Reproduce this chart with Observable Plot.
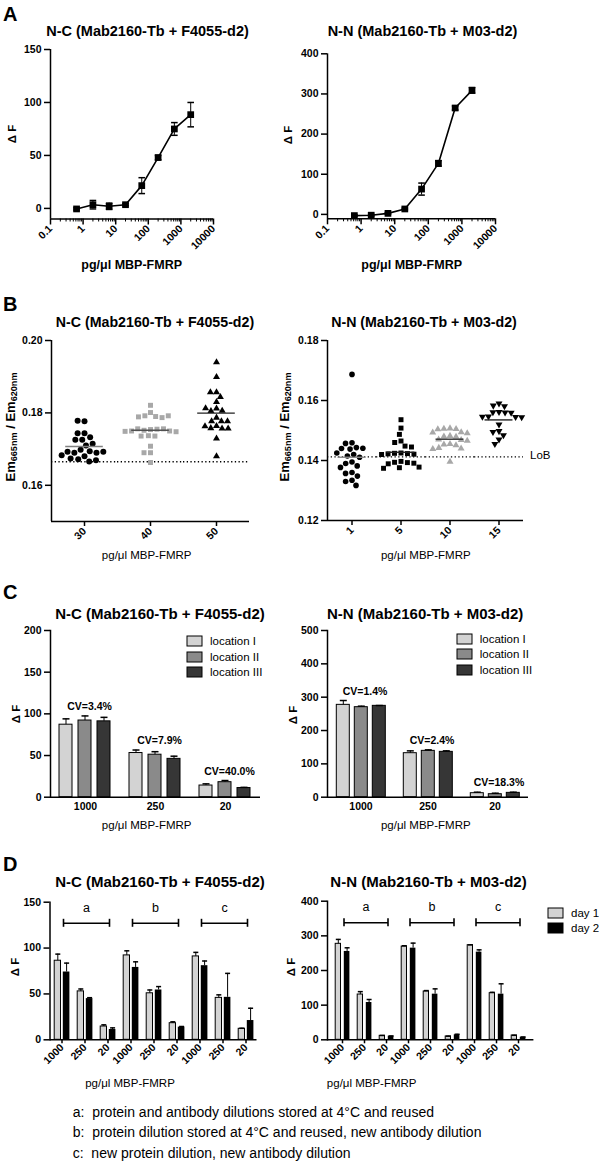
<!DOCTYPE html>
<html><head><meta charset="utf-8">
<script src="https://cdn.jsdelivr.net/npm/d3@7"></script>
<script src="https://cdn.jsdelivr.net/npm/@observablehq/plot@0.6"></script>
<style>
body{margin:0;background:#fff;}
#fig{position:relative;width:600px;height:1163px;overflow:hidden;background:#fff;color:#000;font-family:"Liberation Sans",Arial,Helvetica,sans-serif;}
.pl{position:absolute;}
.t{position:absolute;white-space:pre;}
.t sub{font-size:0.7em;vertical-align:-0.25em;line-height:0;}
.lgwrap svg{overflow:visible;margin-right:8px !important;}
.lgwrap svg rect{stroke:#000;stroke-width:1px;}
.lgwrap div{margin:0 !important;min-height:0 !important;}
.lgwrap .lg-swatch{height:15.5px !important;padding-bottom:0 !important;}
</style></head><body><div id="fig"></div>
<script>
// ---------- Panel A data ----------
const concA = [0.63, 2, 6.3, 20, 63, 200, 630, 2000];
const aNC = [-0.5, 3.5, 2, 3.5, 21.5, 48, 75, 88.5];
const aNCerr = [1, 4, 3, 1, 7.5, 2, 6, 11.5];
const aNN = [-3, -2, 2.5, 13.5, 63, 127, 265, 309];
const aNNerr = [2, 2, 2, 2, 15, 7, 5, 7];
const logTicks = [0.1, 1, 10, 100, 1000, 10000];

// ---------- Panel B data ----------
const bNCcats = ["30", "40", "50"];
const bNC30 = [0.1777, 0.1778, 0.1744, 0.1744, 0.1726, 0.1733, 0.1726, 0.1710, 0.1715, 0.1698, 0.1694, 0.1690, 0.1690, 0.1693, 0.1693, 0.1680, 0.1672, 0.1666, 0.1669, 0.1674, 0.1683];
const bNC40 = [0.1821, 0.1801, 0.1792, 0.1790, 0.1787, 0.1789, 0.1792, 0.1754, 0.1752, 0.1755, 0.1756, 0.1756, 0.1750, 0.1750, 0.1749, 0.1748, 0.1737, 0.1736, 0.1736, 0.1708, 0.1690, 0.1690, 0.1663];
const bNC50 = [0.1940, 0.1899, 0.1857, 0.1857, 0.1844, 0.1830, 0.1812, 0.1805, 0.1806, 0.1813, 0.1787, 0.1777, 0.1777, 0.1777, 0.1764, 0.1758, 0.1757, 0.1757, 0.1763, 0.1729, 0.1680];
const bNClob = 0.1665;
const bNNcats = ["1", "5", "10", "15"];
const bNN1 = [0.1687, 0.1459, 0.1457, 0.1443, 0.1441, 0.1440, 0.1438, 0.1425, 0.1420, 0.1415, 0.1411, 0.1395, 0.1390, 0.1382, 0.1377, 0.1360, 0.1357, 0.1348, 0.1334, 0.1330, 0.1317];
const bNN5 = [0.1536, 0.1508, 0.1487, 0.1465, 0.1460, 0.1448, 0.1445, 0.1425, 0.1424, 0.1423, 0.1422, 0.1421, 0.1420, 0.1397, 0.1394, 0.1393, 0.1391, 0.1389, 0.1378, 0.1376, 0.1374];
const bNN10 = [0.1507, 0.1506, 0.1505, 0.1504, 0.1494, 0.1493, 0.1491, 0.1482, 0.1480, 0.1479, 0.1470, 0.1468, 0.1466, 0.1455, 0.1453, 0.1451, 0.1442, 0.1440, 0.1438, 0.1396];
const bNN15 = [0.1590, 0.1583, 0.1581, 0.1562, 0.1561, 0.1560, 0.1559, 0.1547, 0.1546, 0.1545, 0.1544, 0.1520, 0.1498, 0.1495, 0.1484, 0.1470, 0.1455];
const bNNlob = 0.1412;

// ---------- Panel C data ----------
const cConc = ["1000", "250", "20"];
const cLoc = ["location I", "location II", "location III"];
const cNC = [[87, 92, 91], [53, 51, 46], [14, 18, 11]];
const cNCerr = [[7, 5.5, 4.8], [3.6, 3.6, 3.2], [2, 2, 0.8]];
const cNCcv = ["CV=3.4%", "CV=7.9%", "CV=40.0%"];
const cNN = [[277, 270, 274], [132, 139, 136], [12, 9, 13]];
const cNNerr = [[13, 3, 1], [7, 3, 3], [3, 3, 2]];
const cNNcv = ["CV=1.4%", "CV=2.4%", "CV=18.3%"];

// ---------- Panel D data ----------
const dSets = ["a", "b", "c"];
const dConc = ["1000", "250", "20"];
const dDays = ["day 1", "day 2"];
const dNCday1 = [86.2, 52.8, 14.5, 92, 50.7, 18.1, 90.9, 45.7, 12];
const dNCday1err = [7.2, 2.6, 1.8, 5, 3.6, 1.5, 4.4, 3.3, 0.6];
const dNCday2 = [73.9, 44.9, 11.2, 78.9, 54.3, 13.8, 80.8, 46.3, 21];
const dNCday2err = [9.7, 1, 1.8, 6.1, 3.7, 0.7, 5.1, 26.1, 13.4];
const dNNday1 = [277, 130.7, 11.5, 269, 139.4, 9.6, 273, 134.5, 12.4];
const dNNday1err = [12.7, 8.3, 1, 2.5, 2.6, 0.9, 1, 2.5, 0.6];
const dNNday2 = [255, 107.6, 10.5, 264.5, 131.7, 14.4, 253, 131.7, 7.5];
const dNNday2err = [10.5, 8.7, 0.6, 14.5, 15.3, 1.6, 6.6, 29.9, 0.6];
const dBracketNC = 127;
const dBracketNN = 338;

const captionLines = [
  "a:  protein and antibody dilutions stored at 4°C and reused",
  "b:  protein dilution stored at 4°C and reused, new antibody dilution",
  "c:  new protein dilution, new antibody dilution"
];

// ---------- helpers ----------
const FONT = '"Liberation Sans", Arial, Helvetica, sans-serif';
const baseStyle = {fontFamily: FONT, fontSize: "10.5px", fontWeight: "bold", overflow: "visible", background: "none", color: "#000"};
const fig = document.getElementById("fig");
const sqrt3 = Math.sqrt(3);
const capSym = {draw(ctx, size) { const w = Math.sqrt(size / Math.PI); ctx.moveTo(-w, 0); ctx.lineTo(w, 0); }};
const triDown = {draw(ctx, size) { const y = -Math.sqrt(size / (sqrt3 * 3)); ctx.moveTo(0, -y * 2); ctx.lineTo(-sqrt3 * y, y); ctx.lineTo(sqrt3 * y, y); ctx.closePath(); }};

function place(el, left, top, cls) {
  const w = document.createElement("div");
  w.className = "pl" + (cls ? " " + cls : "");
  w.style.left = left + "px"; w.style.top = top + "px";
  w.appendChild(el); fig.appendChild(w);
}
function addText(html, x, y, o = {}) {
  const size = o.size || 12;
  const d = document.createElement("div");
  d.className = "t";
  d.innerHTML = html;
  d.style.fontSize = size + "px";
  d.style.lineHeight = size + "px";
  d.style.fontWeight = o.bold ? "bold" : "normal";
  d.style.left = x + "px";
  if (o.rotate) {
    d.style.top = y + "px";
    d.style.transform = "translate(-50%,-50%) rotate(-90deg)";
  } else {
    d.style.top = (y - 0.8465 * size) + "px";
    if (o.anchor !== "start") d.style.transform = "translateX(-50%)";
  }
  fig.appendChild(d);
}

// ---------- Panel A ----------
const minorTicks = [-1, 0, 1, 2, 3].flatMap(k => d3.range(2, 10).map(m => m * 10 ** k));
function curvePlot(vals, errs, yDomain, yTicks, geom) {
  const rows = concA.map((c, i) => ({c, v: vals[i], lo: vals[i] - errs[i], hi: vals[i] + errs[i]}));
  return Plot.plot({
    ...geom, style: baseStyle,
    x: {type: "log", domain: [0.1, 10000], axis: null},
    y: {domain: yDomain, axis: null},
    marks: [
      Plot.axisY({ticks: yTicks, tickSize: 6, tickPadding: 3, strokeWidth: 1.5, label: null}),
      Plot.axisX({ticks: minorTicks, tickSize: 3, tickFormat: () => "", strokeWidth: 1, label: null}),
      Plot.axisX({ticks: logTicks, tickSize: 6, tickPadding: 2, tickRotate: -45, tickFormat: d => String(d), strokeWidth: 1.5, label: null}),
      Plot.ruleX([0.1], {strokeWidth: 1.5}),
      Plot.ruleY([yDomain[0]], {strokeWidth: 1.5}),
      Plot.ruleX(rows, {x: "c", y1: "lo", y2: "hi", strokeWidth: 1}),
      Plot.dot(rows, {x: "c", y: "hi", symbol: capSym, r: 3.3, stroke: "black", fill: "none"}),
      Plot.dot(rows, {x: "c", y: "lo", symbol: capSym, r: 3.3, stroke: "black", fill: "none"}),
      Plot.line(rows, {x: "c", y: "v", strokeWidth: 1.6}),
      Plot.dot(rows, {x: "c", y: "v", symbol: "square", r: 3.8, fill: "black", stroke: "none"})
    ]
  });
}
place(curvePlot(aNC, aNCerr, [-10, 150], [0, 50, 100, 150],
  {width: 300, height: 260, marginLeft: 50, marginRight: 87, marginTop: 49, marginBottom: 41.5}), 0, 0);
place(curvePlot(aNN, aNNerr, [-11, 400], [0, 100, 200, 300, 400],
  {width: 300, height: 260, marginLeft: 27, marginRight: 105, marginTop: 53.3, marginBottom: 41.7}), 300, 0);

// ---------- Panel B ----------
function swarmPlot(cats, groups, syms, fills, rs, lineCols, yDomain, yTicks, lob, geom) {
  const pts = cats.flatMap((c, i) => groups[i].map(v => ({cat: c, v})));
  const means = cats.map((c, i) => ({cat: c, m: d3.mean(groups[i]), col: lineCols[i]}));
  return Plot.plot({
    ...geom, style: baseStyle,
    fx: {domain: cats, padding: 0, axis: null, label: null},
    x: {domain: [-1, 1], axis: null},
    y: {domain: yDomain, axis: null},
    marks: [
      Plot.ruleY([lob], {strokeDasharray: "1.3,2.4", strokeWidth: 1.3}),
      Plot.ruleY([yDomain[0]], {strokeWidth: 1.5}),
      Plot.ruleX([{cat: cats[0]}], {fx: "cat", x: -1, strokeWidth: 1.5}),
      Plot.axisY({ticks: yTicks, tickFormat: d3.format(".2f"), tickSize: 6, tickPadding: 3, strokeWidth: 1.5, label: null}),
      Plot.axisFx({anchor: "bottom", tickSize: 5, tickPadding: 3, tickRotate: -45, strokeWidth: 1.5, label: null}),
      ...cats.map((c, i) => Plot.dot(pts.filter(p => p.cat === c),
        Plot.dodgeX({anchor: "middle", padding: 0.9}, {fx: "cat", y: "v", r: rs[i], symbol: syms[i], fill: fills[i], stroke: "none"}))),
      ...means.map(m => Plot.ruleY([m], {fx: "cat", y: "m", x1: -0.57, x2: 0.57, stroke: m.col, strokeWidth: 1.4}))
    ]
  });
}
place(swarmPlot(bNCcats, [bNC30, bNC40, bNC50], ["circle", "square", "triangle"], ["black", "#a8a8a8", "black"], [3, 2.8, 2.6],
  ["#808080", "#505050", "#202020"], [0.15, 0.20], [0.16, 0.18, 0.20], bNClob,
  {width: 300, height: 260, marginLeft: 50.7, marginRight: 50.7, marginTop: 50, marginBottom: 29}), 0, 290);
place(swarmPlot(bNNcats, [bNN1, bNN5, bNN10, bNN15], ["circle", "square", "triangle", triDown], ["black", "black", "#a8a8a8", "black"], [2.8, 2.8, 2.6, 2.6],
  ["#8a8a8a", "#202020", "#303030", "#202020"], [0.12, 0.18], [0.12, 0.14, 0.16, 0.18], bNNlob,
  {width: 300, height: 260, marginLeft: 26.7, marginRight: 76, marginTop: 50, marginBottom: 30}), 300, 290);

// ---------- Panel C ----------
const cColors = ["#d3d3d3", "#8a8a8a", "#363636"];
function groupedBars(vals, errs, cvs, yDomain, yTicks, geom) {
  const rows = cConc.flatMap((c, i) => cLoc.map((l, j) => ({conc: c, loc: l, v: vals[i][j], top: vals[i][j] + errs[i][j]})));
  const cvRows = cConc.map((c, i) => ({conc: c, text: cvs[i], y: d3.max(rows.filter(r => r.conc === c), r => r.top)}));
  return Plot.plot({
    ...geom, style: baseStyle,
    fx: {domain: cConc, padding: 0, axis: null, label: null},
    x: {domain: cLoc, paddingInner: 0.3, paddingOuter: 0.48, axis: null},
    y: {domain: yDomain, axis: null},
    color: {domain: cLoc, range: cColors},
    marks: [
      Plot.barY(rows, {fx: "conc", x: "loc", y: "v", fill: "loc", stroke: "black", strokeWidth: 1}),
      Plot.ruleX(rows, {fx: "conc", x: "loc", y1: "v", y2: "top", strokeWidth: 1}),
      Plot.dot(rows, {fx: "conc", x: "loc", y: "top", symbol: capSym, r: 3.5, stroke: "black", fill: "none"}),
      Plot.text(cvRows, {fx: "conc", y: "y", text: "text", dy: -6, dx: 4, lineAnchor: "bottom", fontWeight: "bold", fontSize: 10.5}),
      Plot.ruleY([yDomain[0]], {strokeWidth: 1.5}),
      Plot.frame({anchor: "left", facetAnchor: "left", strokeWidth: 1.5}),
      Plot.axisY({ticks: yTicks, tickSize: 6, tickPadding: 3, strokeWidth: 1.5, label: null}),
      Plot.axisFx({anchor: "bottom", tickSize: 0, tickPadding: 5, label: null})
    ]
  });
}
place(groupedBars(cNC, cNCerr, cNCcv, [0, 200], [0, 50, 100, 150, 200],
  {width: 300, height: 230, marginLeft: 50, marginRight: 40, marginTop: 30, marginBottom: 33.3}), 0, 600);
place(groupedBars(cNN, cNNerr, cNNcv, [0, 500], [0, 100, 200, 300, 400, 500],
  {width: 300, height: 230, marginLeft: 26.7, marginRight: 72.3, marginTop: 30, marginBottom: 33.3}), 300, 600);

function makeLegend(domain, range) {
  return Plot.legend({color: {type: "ordinal", domain, range}, legend: "swatches", columns: 1, swatchWidth: 15, swatchHeight: 10, className: "lg",
    style: {fontFamily: FONT, fontSize: "11.5px", fontWeight: "normal", color: "#000", margin: "0"}});
}
place(makeLegend(cLoc, cColors), 187, 633.5, "lgwrap");
place(makeLegend(cLoc, cColors), 456.7, 631, "lgwrap");

// ---------- Panel D ----------
const dKeys = dSets.flatMap(s => dConc.map(c => s + "-" + c));
function pairedBars(d1, e1, d2, e2, level, yDomain, yTicks, geom) {
  const rows = dKeys.map((k, i) => ({key: k, d1: d1[i], t1: d1[i] + e1[i], d2: d2[i], t2: d2[i] + e2[i]}));
  const br = dSets.map(s => ({label: s, from: s + "-" + dConc[0], mid: s + "-" + dConc[1], to: s + "-" + dConc[2]}));
  return Plot.plot({
    ...geom, style: baseStyle,
    x: {domain: dKeys, padding: 0, axis: null},
    y: {domain: yDomain, axis: null},
    marks: [
      Plot.barY(rows, {x: "key", y: "d1", fill: "#d3d3d3", stroke: "black", strokeWidth: 1, insetLeft: 4.2, insetRight: 12.5}),
      Plot.barY(rows, {x: "key", y: "d2", fill: "black", insetLeft: 12.8, insetRight: 3.6}),
      Plot.ruleX(rows, {x: "key", y1: "d1", y2: "t1", dx: -4.2, strokeWidth: 1}),
      Plot.dot(rows, {x: "key", y: "t1", dx: -4.2, symbol: capSym, r: 2.5, stroke: "black", fill: "none"}),
      Plot.ruleX(rows, {x: "key", y1: "d2", y2: "t2", dx: 4.6, strokeWidth: 1}),
      Plot.dot(rows, {x: "key", y: "t2", dx: 4.6, symbol: capSym, r: 2.5, stroke: "black", fill: "none"}),
      Plot.link(br, {x1: "from", x2: "to", y1: level, y2: level, dx: 1.5, strokeWidth: 1.6}),
      Plot.ruleX(br, {x: "from", y1: level, y2: level, dx: 1.5, insetTop: -4, insetBottom: -4, strokeWidth: 1.6}),
      Plot.ruleX(br, {x: "to", y1: level, y2: level, dx: 1.5, insetTop: -4, insetBottom: -4, strokeWidth: 1.6}),
      Plot.text(br, {x: "mid", y: level, text: "label", dx: 1.5, dy: -15.5, fontWeight: "normal", fontSize: 12.5}),
      Plot.ruleY([yDomain[0]], {strokeWidth: 1.5}),
      Plot.frame({anchor: "left", strokeWidth: 1.5}),
      Plot.axisY({ticks: yTicks, tickSize: 6, tickPadding: 3, strokeWidth: 1.5, label: null}),
      Plot.axisX({tickSize: 4, tickPadding: 2, tickRotate: -45, tickFormat: d => d.split("-")[1], strokeWidth: 1.5, label: null})
    ]
  });
}
place(pairedBars(dNCday1, dNCday1err, dNCday2, dNCday2err, dBracketNC, [0, 150], [0, 50, 100, 150],
  {width: 300, height: 200, marginLeft: 49.5, marginRight: 43.5, marginTop: 21.7, marginBottom: 40.7}), 0, 880);
place(pairedBars(dNNday1, dNNday1err, dNNday2, dNNday2err, dBracketNN, [0, 400], [0, 100, 200, 300, 400],
  {width: 300, height: 200, marginLeft: 27, marginRight: 66.6, marginTop: 20.7, marginBottom: 40.7}), 300, 880);
place(makeLegend(dDays, ["#d3d3d3", "black"]), 548, 905, "lgwrap");

// ---------- Text ----------
const NC = "N-C (Mab2160-Tb + F4055-d2)", NN = "N-N (Mab2160-Tb + M03-d2)";
const XL = "pg/μl MBP-FMRP", DF = "Δ F";
const EM = "Em<sub>665nm</sub> / Em<sub>620nm</sub>";
[["A", 21.3], ["B", 311], ["C", 598.8], ["D", 871]].forEach(([s, y]) => addText(s, 3, y, {size: 20, bold: true, anchor: "start"}));
addText(NC, 147.5, 36, {size: 14.5, bold: true});
addText(NN, 422.5, 36.5, {size: 14.5, bold: true});
addText(NC, 155, 326.7, {size: 14.2, bold: true});
addText(NN, 424, 326.7, {size: 14.2, bold: true});
addText(NC, 160, 618.3, {size: 15, bold: true});
addText(NN, 425.2, 618.3, {size: 15, bold: true});
addText(NC, 160, 886.7, {size: 15, bold: true});
addText(NN, 428.5, 886.7, {size: 15, bold: true});
[[13.3, 134], [289, 135], [16.5, 714], [294, 715], [16, 967], [292, 967]].forEach(([x, y]) => addText(DF, x, y, {size: 11.5, bold: true, rotate: true}));
addText(EM, 9.5, 426.7, {size: 13, bold: true, rotate: true});
addText(EM, 284, 426.7, {size: 13, bold: true, rotate: true});
addText(XL, 131.7, 269.5, {size: 12.5, bold: true});
addText(XL, 411.7, 269.5, {size: 12.5, bold: true});
addText(XL, 146.7, 559.5, {size: 11.5});
addText(XL, 425.8, 559.5, {size: 11.5});
addText(XL, 146.7, 829.5, {size: 11.5});
addText(XL, 425.8, 829.5, {size: 11.5});
addText(XL, 130, 1087.5, {size: 11.5});
addText(XL, 371.7, 1087.5, {size: 11.5});
addText("LoB", 530, 460, {size: 11.5, anchor: "start"});
captionLines.forEach((s, i) => addText(s, 72.7, 1116.7 + i * 20.5, {size: 14, anchor: "start"}));
</script>
</body></html>
